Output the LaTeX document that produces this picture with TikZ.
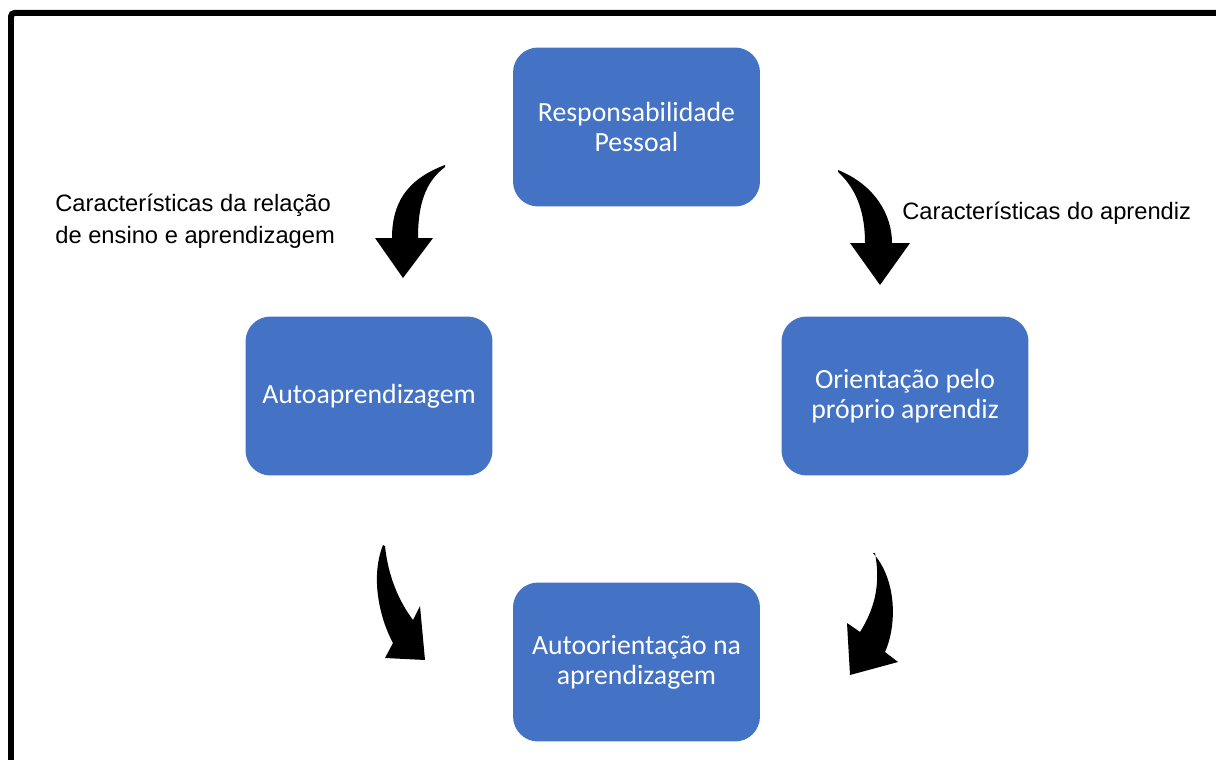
\documentclass[tikz,border=0pt]{standalone}
\usepackage{fontspec}
\setmainfont{Liberation Sans}
\newfontfamily\boxfont{Carlito}
\usepackage{xcolor}
\usepackage{tikz}
\usetikzlibrary{shapes.geometric, arrows}
\definecolor{officeblue}{HTML}{4472C4}
\tikzstyle{box} = [draw=none, fill=officeblue, rounded corners=0.5cm, minimum width=4.94cm, minimum height=3.18cm, align=center, text=white, font=\boxfont\fontsize{15.8}{17}\selectfont]
\tikzstyle{note} = [align=left, anchor=west, inner sep=0pt, font=\fontsize{13.5}{18.2}\selectfont]
\tikzstyle{curvearrow} = [fill=black]

\begin{document}
\begin{tikzpicture}[x=0.02cm,y=-0.02cm]
	\useasboundingbox (0,0) rectangle (1216,760);
	\clip (0,0) rectangle (1216,760);
	
	% Frame:
	% Only the left and top sides are inside the picture
	\draw [line width=0.12cm, rounded corners=2pt] (11,13) rectangle (1240,790);
	
	% Boxes:
	\node [box] (resp) at (636.5,127) {Responsabilidade\\Pessoal};
	\node [box] (auto) at (369,396) {Autoaprendizagem};
	\node [box] (orient) at (905,396) {Orientação pelo\\próprio aprendiz};
	\node [box] (autoor) at (636.5,662) {Autoorientação na\\aprendizagem};
	
	% Labels:
	\node [note] (relacao) at (55,221) {Características da relação\\de ensino e aprendizagem};
	\node [note] (aprendiz) at (902,213) {Características do aprendiz};
	
	% Curved arrows:
	% Drawn as filled shapes between the boxes
	\fill [curvearrow] (445,165) .. controls (405,180) and (392,205) .. (392,238) -- (375,238) -- (403,278) -- (433,238) -- (418,238) .. controls (418,205) and (425,182) .. (445,167) -- cycle;
	\fill [curvearrow] (838,170) .. controls (875,185) and (892,215) .. (892,243) -- (910,243) -- (880,285) -- (850,243) -- (865,243) .. controls (865,215) and (858,190) .. (838,172) -- cycle;
	\fill [curvearrow] (383,545) .. controls (371,575) and (378,615) .. (393,643) -- (385,658) -- (425,660) -- (420,606) -- (413,620) .. controls (398,600) and (388,575) .. (385,546) -- cycle;
	\fill [curvearrow] (873,553) .. controls (897,580) and (897,625) .. (885,652) -- (898,662) -- (850,675) -- (847,623) -- (860,632) .. controls (877,605) and (880,580) .. (875,553) -- cycle;
	
\end{tikzpicture}
\end{document}
